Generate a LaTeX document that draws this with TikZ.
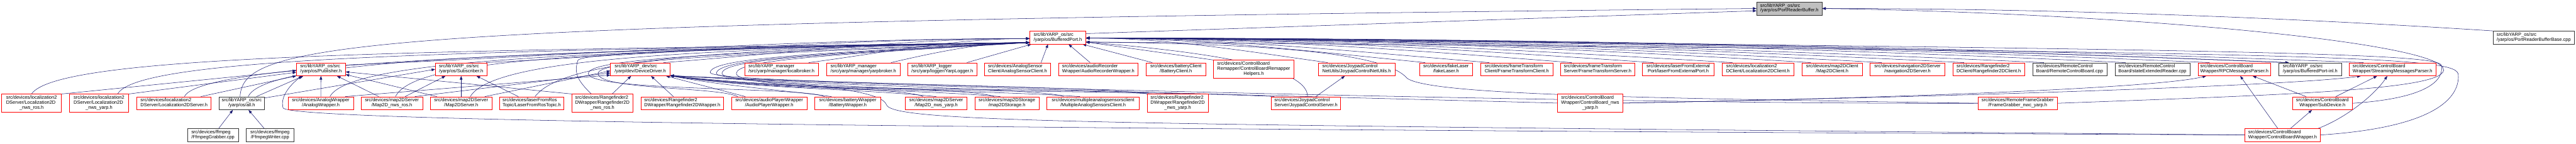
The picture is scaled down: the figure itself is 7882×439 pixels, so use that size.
\documentclass[tikz,border=0pt]{standalone}
\usepackage{fontspec}
\setmainfont{Liberation Sans}
\usetikzlibrary{arrows.meta}
\definecolor{edgeblue}{HTML}{191970}
\newcommand{\flfont}{\fontsize{14.4}{15}\selectfont}
\newcommand{\flab}[2]{\begin{tabular}{@{}l@{}}#1\\\multicolumn{1}{@{}c@{}}{#2}\end{tabular}}
\pgfdeclarelayer{back}
\pgfdeclarelayer{edges}
\pgfsetlayers{back,edges,main}
\tikzset{
  file/.style={draw=red, fill=white, line width=1pt, inner sep=0pt, minimum height=40pt, font=\flfont},
  file3/.style={file, minimum height=55pt},
  leaf/.style={file, draw=black!80},
  root/.style={file, draw=black!80, fill=black!25},
  inc/.style={draw=edgeblue, line width=1pt, -{Triangle[length=11pt,width=8pt]}}
}
\begin{document}
\begin{tikzpicture}[x=1pt, y=1pt]
	\useasboundingbox (0,0) rectangle (7882,-439);
	\begin{pgfonlayer}{back}
		\fill[white] (0,0) rectangle (7882,-439);
	\end{pgfonlayer}

	% rank 0 and 1
	\node[root, minimum width=200pt] (prb) at (5475,-26) {\flab{src/libYARP\_os/src}{/yarp/os/PortReaderBuffer.h}};
	\node[file, minimum width=171pt] (bp) at (3236.5,-115) {\flab{src/libYARP\_os/src}{/yarp/os/BufferedPort.h}};
	\node[leaf, minimum width=249pt] (prbb) at (7752.5,-115) {\flab{src/libYARP\_os/src}{/yarp/os/PortReaderBufferBase.cpp}};

	% rank 2
	\node[file, minimum width=150pt] (pub) at (982,-212) {\flab{src/libYARP\_os/src}{/yarp/os/Publisher.h}};
	\node[file, minimum width=158pt] (sub) at (1411,-212) {\flab{src/libYARP\_os/src}{/yarp/os/Subscriber.h}};
	\node[file, minimum width=182pt] (dd) at (1959,-212) {\flab{src/libYARP\_dev/src}{/yarp/dev/DeviceDriver.h}};
	\node[file, minimum width=226pt] (lb) at (2391,-212) {\flab{src/libYARP\_manager}{/src/yarp/manager/localbroker.h}};
	\node[file, minimum width=225pt] (yb) at (2641.5,-212) {\flab{src/libYARP\_manager}{/src/yarp/manager/yarpbroker.h}};
	\node[file, minimum width=210pt] (yl) at (2883,-212) {\flab{src/libYARP\_logger}{/src/yarp/logger/YarpLogger.h}};
	\node[file, minimum width=203pt] (asc) at (3113.5,-212) {\flab{src/devices/AnalogSensor}{Client/AnalogSensorClient.h}};
	\node[file, minimum width=243pt] (arw) at (3360.5,-212) {\flab{src/devices/audioRecorder}{Wrapper/AudioRecorderWrapper.h}};
	\node[file, minimum width=184pt] (bc) at (3598,-212) {\flab{src/devices/batteryClient}{/BatteryClient.h}};
	\node[file3, minimum width=246pt] (cbrh) at (3836,-211.5) {\flab{src/devices/ControlBoard\\Remapper/ControlBoardRemapper}{Helpers.h}};
	\node[file, minimum width=236pt] (jcnu) at (4151,-212) {\flab{src/devices/JoypadControl}{NetUtils/JoypadControlNetUtils.h}};
	\node[file, minimum width=163pt] (fl) at (4424.5,-212) {\flab{src/devices/fakeLaser}{/fakeLaser.h}};
	\node[file, minimum width=220pt] (ftc) at (4641,-212) {\flab{src/devices/frameTransform}{Client/FrameTransformClient.h}};
	\node[file, minimum width=227pt] (fts) at (4888.5,-212) {\flab{src/devices/frameTransform}{Server/FrameTransformServer.h}};
	\node[file, minimum width=220pt] (lfep) at (5135,-212) {\flab{src/devices/laserFromExternal}{Port/laserFromExternalPort.h}};
	\node[file, minimum width=220pt] (l2dc) at (5379,-212) {\flab{src/devices/localization2}{DClient/Localization2DClient.h}};
	\node[file, minimum width=184pt] (m2dc) at (5606,-212) {\flab{src/devices/map2DClient}{/Map2DClient.h}};
	\node[file, minimum width=229pt] (n2ds) at (5836.5,-212) {\flab{src/devices/navigation2DServer}{/navigation2DServer.h}};
	\node[file, minimum width=220pt] (r2dc) at (6085,-212) {\flab{src/devices/Rangefinder2}{DClient/Rangefinder2DClient.h}};
	\node[leaf, minimum width=227pt] (rcb) at (6332.5,-212) {\flab{src/devices/RemoteControl}{Board/RemoteControlBoard.cpp}};
	\node[leaf, minimum width=230pt] (ser) at (6586,-212) {\flab{src/devices/RemoteControl}{Board/stateExtendedReader.cpp}};
	\node[file, minimum width=223pt] (rpc) at (6836.5,-212) {\flab{src/devices/ControlBoard}{Wrapper/RPCMessagesParser.h}};
	\node[leaf, minimum width=193pt] (bpinl) at (7068.5,-212) {\flab{src/libYARP\_os/src}{/yarp/os/BufferedPort-inl.h}};
	\node[file, minimum width=265pt] (smp) at (7320.5,-212) {\flab{src/devices/ControlBoard}{Wrapper/StreamingMessagesParser.h}};

	% rank 3
	\node[file3, minimum width=183pt] (l2dros) at (96.5,-315.5) {\flab{src/devices/localization2\\DServer/Localization2D}{\_nws\_ros.h}};
	\node[file3, minimum width=182pt] (l2dyarp) at (303,-315.5) {\flab{src/devices/localization2\\DServer/Localization2D}{\_nws\_yarp.h}};
	\node[file, minimum width=227pt] (l2ds) at (532.5,-316) {\flab{src/devices/localization2}{DServer/Localization2DServer.h}};
	\node[leaf, minimum width=139pt] (all) at (739.5,-316) {\flab{src/libYARP\_os/src}{/yarp/os/all.h}};
	\node[file, minimum width=199pt] (aw) at (981.5,-316) {\flab{src/devices/AnalogWrapper}{/AnalogWrapper.h}};
	\node[file, minimum width=188pt] (m2dros) at (1199,-316) {\flab{src/devices/map2DServer}{/Map2D\_nws\_ros.h}};
	\node[file, minimum width=188pt] (m2ds) at (1411,-316) {\flab{src/devices/map2DServer}{/Map2DServer.h}};
	\node[file, minimum width=196pt] (lfrt) at (1627,-316) {\flab{src/devices/laserFromRos}{Topic/LaserFromRosTopic.h}};
	\node[file3, minimum width=186pt] (r2dros) at (1843,-315.5) {\flab{src/devices/Rangefinder2\\DWrapper/Rangefinder2D}{\_nws\_ros.h}};
	\node[file, minimum width=253pt] (r2dw) at (2087.5,-316) {\flab{src/devices/Rangefinder2}{DWrapper/Rangefinder2DWrapper.h}};
	\node[file, minimum width=231pt] (apw) at (2353.5,-316) {\flab{src/devices/audioPlayerWrapper}{/AudioPlayerWrapper.h}};
	\node[file, minimum width=202pt] (bw) at (2594,-316) {\flab{src/devices/batteryWrapper}{/BatteryWrapper.h}};
	\node[file, minimum width=189pt] (m2dyarp) at (2864.5,-316) {\flab{src/devices/map2DServer}{/Map2D\_nws\_yarp.h}};
	\node[file, minimum width=196pt] (m2dst) at (3081,-316) {\flab{src/devices/map2DStorage}{/map2DStorage.h}};
	\node[file, minimum width=283pt] (masc) at (3344.5,-316) {\flab{src/devices/multipleanalogsensorsclient}{/MultipleAnalogSensorsClient.h}};
	\node[file3, minimum width=187pt] (r2dyarp) at (3603.5,-315.5) {\flab{src/devices/Rangefinder2\\DWrapper/Rangefinder2D}{\_nws\_yarp.h}};
	\node[file, minimum width=212pt] (jcs) at (3996,-316) {\flab{src/devices/JoypadControl}{Server/JoypadControlServer.h}};
	\node[file3, minimum width=199pt] (cbyarp) at (4865.5,-315.5) {\flab{src/devices/ControlBoard\\Wrapper/ControlBoard\_nws}{\_yarp.h}};
	\node[file, minimum width=243pt] (fgyarp) at (6173.5,-316) {\flab{src/devices/RemoteFrameGrabber}{/FrameGrabber\_nwc\_yarp.h}};
	\node[file, minimum width=184pt] (subdev) at (7106,-316) {\flab{src/devices/ControlBoard}{Wrapper/SubDevice.h}};

	% rank 4
	\node[leaf, minimum width=155pt] (ffg) at (651.5,-413) {\flab{src/devices/ffmpeg}{/FfmpegGrabber.cpp}};
	\node[leaf, minimum width=146pt] (ffw) at (826,-413) {\flab{src/devices/ffmpeg}{/FfmpegWriter.cpp}};
	\node[file, minimum width=232pt] (cbw) at (6984,-413) {\flab{src/devices/ControlBoard}{Wrapper/ControlBoardWrapper.h}};

	\begin{pgfonlayer}{edges}
	% PortReaderBuffer.h
	\draw[inc] (bp.8) -- (prb.184);
	\draw[inc] ([xshift=-5pt]all.north) .. controls (745,-130) and (1050,-70) .. (prb.west);
	\draw[inc] (prbb.north west) .. controls +(-620,40) and +(720,0) .. (prb.east);
	\draw[inc] (fgyarp.east) .. controls (7000,-290) and (7470,-275) .. (7477,-215) .. controls (7485,-130) and (6500,-40) .. (prb.east);

	% BufferedPort.h, left side
	\draw[inc] (pub.10) .. controls +(630,25) and +(-730,0) .. (bp.182);
	\draw[inc] ([xshift=-3pt]sub.north east) .. controls +(500,25) and +(-580,0) .. (bp.182);
	\draw[inc] ([xshift=-20pt]dd.north east) .. controls +(340,25) and +(-390,0) .. (bp.182);
	\draw[inc] ([xshift=-30pt]lb.north east) .. controls +(200,25) and +(-240,0) .. (bp.182);
	\draw[inc] ([xshift=-28pt]yb.north east) .. controls +(130,30) and +(-150,0) .. (bp.190);
	\draw[inc] ([xshift=20pt]all.north) .. controls +(50,110) and +(-1600,-25) .. (bp.190);
	\draw[inc] (l2dros.north) .. controls +(80,120) and +(-1900,-25) .. (bp.190);
	\draw[inc] ([xshift=57pt]l2dyarp.north) .. controls +(60,110) and +(-1800,-25) .. (bp.190);
	\draw[inc] ([xshift=32pt]l2ds.north) .. controls +(40,90) and +(-1700,-25) .. (bp.190);
	\draw[inc] ([xshift=28pt]aw.north) .. controls +(60,110) and +(-1400,-25) .. (bp.190);
	\draw[inc] ([xshift=11pt]m2dros.north) .. controls +(60,120) and +(-1300,-25) .. (bp.190);
	\draw[inc] ([xshift=28pt]m2ds.north) .. controls +(70,120) and +(-1000,-20) .. (bp.190);
	\draw[inc] ([xshift=10pt]lfrt.north) .. controls +(90,120) and +(-900,-20) .. (bp.190);
	\draw[inc] ([xshift=-34pt]r2dros.north) .. controls +(-40,40) and (1755,-225) .. (1768,-185) .. controls (1780,-155) and (2500,-140) .. (bp.190);
	\draw[inc] ([xshift=20pt]apw.north west) .. controls +(-60,30) and (1830,-275) .. (1830,-225) .. controls (1830,-180) and (2300,-165) .. (bp.190);
	\draw[inc] ([xshift=30pt]bw.north west) .. controls +(-60,30) and (1800,-280) .. (1800,-225) .. controls (1800,-175) and (2300,-160) .. (bp.190);
	\draw[inc] ([xshift=-40pt]m2dyarp.north) .. controls +(-60,30) and (2253,-270) .. (2253,-225) .. controls (2253,-185) and (2500,-170) .. (bp.190);
	\draw[inc] ([xshift=-40pt]m2dst.north) .. controls +(-60,30) and (2209,-265) .. (2209,-225) .. controls (2209,-182) and (2500,-168) .. (bp.190);
	\draw[inc] ([xshift=-90pt]masc.north) .. controls +(-60,30) and (2192,-260) .. (2192,-225) .. controls (2192,-180) and (2500,-165) .. (bp.190);
	\draw[inc] (r2dyarp.north west) .. controls +(-80,25) and (2173,-255) .. (2173,-222) .. controls (2173,-178) and (2500,-162) .. (bp.190);

	% BufferedPort.h, from below
	\draw[inc] ([xshift=-30pt]yl.north east) -- ([xshift=5pt]bp.south west);
	\draw[inc] ([xshift=-30pt]asc.north east) -- ([xshift=-30pt]bp.south);
	\draw[inc] ([xshift=-25pt]arw.north) -- ([xshift=33pt]bp.south);
	\draw[inc] ([xshift=20pt]bc.north west) -- ([xshift=-10pt]bp.south east);
	\draw[inc] (cbrh.north west) -- (bp.-9);

	% BufferedPort.h, right side
	\draw[inc] ([xshift=30pt]jcnu.north west) .. controls +(-220,30) and +(260,0) .. (bp.-1);
	\draw[inc] ([xshift=18pt]fl.north west) .. controls +(-310,30) and +(360,0) .. (bp.-1);
	\draw[inc] ([xshift=26pt]ftc.north west) .. controls +(-370,30) and +(430,0) .. (bp.-1);
	\draw[inc] ([xshift=34pt]fts.north west) .. controls +(-450,35) and +(520,0) .. (bp.-1);
	\draw[inc] ([xshift=34pt]lfep.north west) .. controls +(-520,35) and +(610,0) .. (bp.-1);
	\draw[inc] ([xshift=32pt]l2dc.north west) .. controls +(-590,35) and +(690,0) .. (bp.-1);
	\draw[inc] ([xshift=27pt]m2dc.north west) .. controls +(-670,40) and +(780,0) .. (bp.-1);
	\draw[inc] ([xshift=36pt]n2ds.north west) .. controls +(-730,40) and +(850,0) .. (bp.-1);
	\draw[inc] ([xshift=35pt]r2dc.north west) .. controls +(-800,40) and +(940,0) .. (bp.-1);
	\draw[inc] ([xshift=35pt]rcb.north west) .. controls +(-880,40) and +(1030,0) .. (bp.-1);
	\draw[inc] ([xshift=33pt]ser.north west) .. controls +(-950,45) and +(1110,0) .. (bp.-1);
	\draw[inc] ([xshift=36pt]rpc.north west) .. controls +(-1030,45) and +(1200,0) .. (bp.-1);
	\draw[inc] ([xshift=20pt]bpinl.north west) .. controls +(-1100,45) and +(1280,0) .. (bp.-1);
	\draw[inc] ([xshift=44pt]smp.north west) .. controls +(-1170,45) and +(1370,0) .. (bp.-1);
	\draw[inc] (bp.-1) .. controls +(1300,0) and +(-1100,45) .. ([xshift=32pt]bpinl.north west);
	\draw[inc] ([xshift=5pt]jcs.north) .. controls +(0,100) and +(300,-25) .. (bp.-9);
	\draw[inc] (fgyarp.west) .. controls (5000,-300) and (4380,-290) .. (4306,-240) .. controls (4250,-175) and (4000,-135) .. (bp.-9);
	\draw[inc] (subdev.east) .. controls (7440,-300) and (7478,-240) .. (7470,-200) .. controls (7460,-165) and (7000,-150) .. (bp.-1);
	\draw[inc] (cbw.east) .. controls (7450,-390) and (7525,-300) .. (7522,-230) .. controls (7520,-175) and (7300,-160) .. (bp.-9);

	% DeviceDriver.h
	\draw[inc] ([xshift=-25pt]aw.north east) -- (dd.191);
	\draw[inc] ([xshift=-24pt]m2dros.north east) -- (dd.187);
	\draw[inc] ([xshift=-22pt]m2ds.north east) -- (dd.183);
	\draw[inc] ([xshift=30pt]r2dros.north) -- ([xshift=-28pt]dd.south);
	\draw[inc] ([xshift=-27pt]r2dw.north) -- ([xshift=33pt]dd.south);
	\draw[inc] ([xshift=-73pt]apw.north) -- ([xshift=79pt]dd.south);
	\draw[inc] ([xshift=-50pt]bw.north) .. controls +(-150,20) and +(150,-30) .. (dd.-12);
	\draw[inc] (m2dyarp.north) .. controls +(-250,25) and +(250,-40) .. (dd.-12);
	\draw[inc] ([xshift=-20pt]m2dst.north) .. controls +(-300,25) and +(300,-45) .. (dd.-12);
	\draw[inc] ([xshift=-40pt]masc.north) .. controls +(-380,25) and +(380,-50) .. (dd.-12);
	\draw[inc] ([xshift=20pt]r2dyarp.north west) .. controls +(-440,25) and +(440,-55) .. (dd.-12);
	\draw[inc] ([xshift=10pt]jcs.north west) .. controls +(-550,25) and +(550,-60) .. (dd.-12);
	\draw[inc] (cbyarp.west) .. controls (4200,-300) and (2700,-265) .. (dd.-12);
	\draw[inc] (fgyarp.west) .. controls (5000,-320) and (2800,-265) .. (dd.-12);
	\draw[inc] (cbw.west) .. controls (3300,-380) and (2730,-375) .. (2712,-320) .. controls (2695,-270) and (2400,-250) .. (dd.-12);

	% Publisher.h
	\draw[inc] (aw.north) -- (pub.south);
	\draw[inc] ([xshift=45pt]all.north) -- ([xshift=-54pt]pub.south);
	\draw[inc] ([xshift=-40pt]m2dros.north) -- ([xshift=49pt]pub.south);
	\draw[inc] ([xshift=20pt]m2ds.north west) -- (pub.-12);
	\draw[inc] (r2dros.north west) -- (pub.-6);
	\draw[inc] (l2dros.north east) -- (pub.183);
	\draw[inc] (l2dyarp.north east) -- (pub.187);
	\draw[inc] ([xshift=-32pt]l2ds.north east) -- (pub.195);
	\draw[inc] (cbw.west) .. controls (3000,-395) and (880,-372) .. (866,-330) .. controls (855,-290) and (900,-250) .. ([xshift=-58pt]pub.south);

	% Subscriber.h
	\draw[inc] (all.13) -- (sub.west);
	\draw[inc] ([xshift=-54pt]m2dros.north east) -- ([xshift=-48pt]sub.south);
	\draw[inc] (m2ds.north) -- (sub.south);
	\draw[inc] ([xshift=-41pt]lfrt.north) -- ([xshift=47pt]sub.south);

	% parsers, SubDevice.h, JoypadControlNetUtils.h
	\draw[inc] (cbyarp.east) .. controls (5800,-300) and (6600,-270) .. ([xshift=-86pt]rpc.south);
	\draw[inc] (cbyarp.east) .. controls (5800,-300) and (7000,-265) .. ([xshift=-97pt]smp.south);
	\draw[inc] ([xshift=-15pt]cbw.north) -- ([xshift=18pt]rpc.south);
	\draw[inc] ([xshift=-50pt]subdev.north) -- ([xshift=56pt]rpc.south);
	\draw[inc] ([xshift=41pt]subdev.north) -- ([xshift=-47pt]smp.south);
	\draw[inc] ([xshift=110pt]cbw.north) .. controls +(80,30) and +(-40,-60) .. ([xshift=-16pt]smp.south);
	\draw[inc] ([xshift=25pt]cbw.north) -- ([xshift=-32pt]subdev.south);
	\draw[inc] ([xshift=30pt]jcs.north) -- ([xshift=-36pt]jcnu.south);

	% all.h
	\draw[inc] ([xshift=18pt]ffg.north) -- ([xshift=-27pt]all.south);
	\draw[inc] ([xshift=-18pt]ffw.north) -- ([xshift=21pt]all.south);
	\end{pgfonlayer}
\end{tikzpicture}
\end{document}
